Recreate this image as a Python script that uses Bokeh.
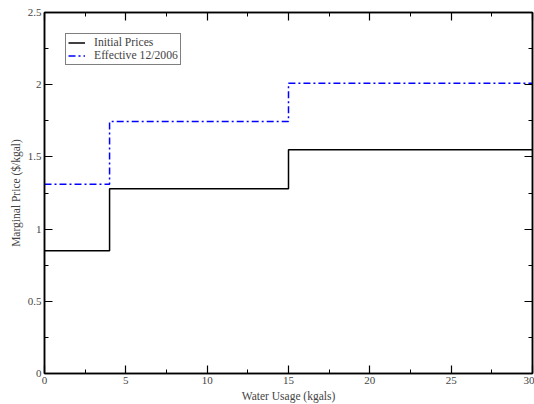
from bokeh.plotting import figure
from bokeh.models import (SingleIntervalTicker, LinearAxis, Range1d, Legend, LegendItem,
                          CustomLabelingPolicy)
from bokeh.embed import file_html
from bokeh.resources import INLINE

# Data: tier boundaries (kgals) and marginal prices ($/kgal)
tier_edges = [0, 4, 15, 30]
initial_prices = [0.85, 1.28, 1.55]
effective_prices = [1.31, 1.745, 2.01]

series_names = ["Initial Prices", "Effective 12/2006"]
x_label = "Water Usage (kgals)"
y_label = "Marginal Price ($/kgal)"

def step_xy(edges, vals):
    xs, ys = [], []
    for i, v in enumerate(vals):
        xs += [edges[i], edges[i + 1]]
        ys += [v, v]
    return xs, ys

FONT = "Liberation Serif"

p = figure(width=534, height=404, output_backend="svg", toolbar_location=None,
           x_range=Range1d(0, 30), y_range=Range1d(0, 2.5),
           min_border_left=44, min_border_right=2, min_border_top=12, min_border_bottom=31,
           x_axis_label=x_label, y_axis_label=y_label)
p.background_fill_color = "white"
p.border_fill_color = "white"
p.outline_line_color = "black"
p.outline_line_width = 1.5
p.grid.visible = False

p.xaxis.ticker = SingleIntervalTicker(interval=5, num_minor_ticks=2)
p.yaxis.ticker = SingleIntervalTicker(interval=0.5, num_minor_ticks=2)

for ax in list(p.xaxis) + list(p.yaxis):
    ax.major_tick_in = 8
    ax.major_tick_out = 0
    ax.minor_tick_in = 4
    ax.minor_tick_out = 0
    ax.axis_line_width = 1.5
    ax.major_tick_line_width = 1.2
    ax.minor_tick_line_width = 1.0
    ax.major_label_text_font = FONT
    ax.major_label_text_font_size = "11px"
    ax.axis_label_text_font = FONT
    ax.axis_label_text_font_size = "11.5px"
    ax.axis_label_text_font_style = "normal"
    ax.major_label_standoff = 3
    ax.axis_label_standoff = 3

# mirrored axes (top/right) with ticks only, no labels
no_labels = "for (const i of [...indices]) { indices.unset(i) }; return indices"
top = LinearAxis(ticker=SingleIntervalTicker(interval=5, num_minor_ticks=2))
right = LinearAxis(ticker=SingleIntervalTicker(interval=0.5, num_minor_ticks=2))
for ax in (top, right):
    ax.major_tick_in = 8
    ax.major_tick_out = 0
    ax.minor_tick_in = 4
    ax.minor_tick_out = 0
    ax.axis_line_width = 1.5
    ax.major_tick_line_width = 1.2
    ax.minor_tick_line_width = 1.0
    ax.major_label_policy = CustomLabelingPolicy(code=no_labels)
    ax.major_label_text_font_size = "0px"
    ax.major_label_standoff = 0
    ax.axis_label = None
p.add_layout(top, "above")
p.add_layout(right, "right")

xs1, ys1 = step_xy(tier_edges, initial_prices)
xs2, ys2 = step_xy(tier_edges, effective_prices)
r1 = p.line(xs1, ys1, line_color="black", line_width=1.5)
r2 = p.line(xs2, ys2, line_color="#0000ff", line_width=1.5, line_dash="7 3 2 3")

legend = Legend(items=[LegendItem(label=series_names[0], renderers=[r1]),
                       LegendItem(label=series_names[1], renderers=[r2])],
                location="top_left")
legend.margin = 21
legend.padding = 2
legend.spacing = -7
legend.label_height = 11
legend.glyph_height = 11
legend.glyph_width = 17
legend.label_standoff = 9
legend.label_text_font = FONT
legend.label_text_font_size = "11.7px"
legend.border_line_color = "black"
legend.border_line_width = 1
legend.background_fill_alpha = 1
p.add_layout(legend, "center")

open("out.html", "w").write(file_html(p, INLINE))
